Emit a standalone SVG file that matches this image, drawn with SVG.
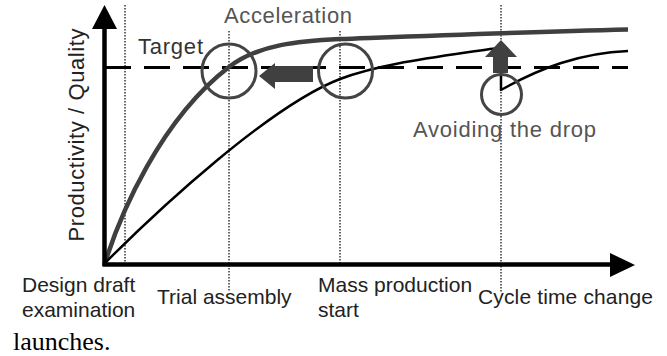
<svg xmlns="http://www.w3.org/2000/svg" width="667" height="356" viewBox="0 0 667 356">
  <style>
    .lbl { font-family: "Liberation Sans", Arial, sans-serif; font-size: 21px; fill: #222; }
    .big { font-family: "Liberation Sans", Arial, sans-serif; font-size: 22px; }
    .gray { fill: #555; }
    .dot { stroke: #333; stroke-width: 1.5; stroke-dasharray: 1.5 1.5; fill: none; }
    .ring { fill: none; stroke: #444; stroke-width: 3; }
    .blk { fill: #404040; }
  </style>
  <rect width="667" height="356" fill="#fff"/>

  <g id="guides">
    <line class="dot" x1="125" y1="5" x2="125" y2="264"/>
    <line class="dot" x1="229" y1="31" x2="229" y2="292"/>
    <line class="dot" x1="340" y1="31" x2="340" y2="264"/>
    <line class="dot" x1="501" y1="5" x2="501" y2="293"/>
  </g>

  <g id="connectors" fill="none" stroke-linecap="butt" stroke-linejoin="round">
    <line id="target-line" x1="105" y1="67.5" x2="628" y2="67.5" stroke="#000" stroke-width="3" stroke-dasharray="26 13"/>
    <path id="accelerated-curve" d="M105,263 C120,215 160,120 229,67 C259,44 300,41 340,39 C420,36 520,32 628,29.5" stroke="#3f3f3f" stroke-width="4.5"/>
    <path id="normal-curve" d="M105,263 C160,208 270,106 340,79 C380,64 430,58 490,49 L501,48 L501,90 C540,68 580,53 628,51" stroke="#000" stroke-width="2.5"/>
    <g id="y-axis">
      <line x1="104.5" y1="266" x2="104.5" y2="26" stroke="#000" stroke-width="4.5"/>
      <polygon points="104.5,5 92,29 117,29" fill="#000"/>
    </g>
    <g id="x-axis">
      <line x1="102.5" y1="264.5" x2="612" y2="264.5" stroke="#000" stroke-width="4.5"/>
      <polygon points="635,265 610,253 610,277" fill="#000"/>
    </g>
  </g>

  <g id="circle-trial">
    <circle class="ring" cx="229" cy="71" r="27"/>
  </g>
  <g id="circle-mass">
    <circle class="ring" cx="345.5" cy="71" r="27"/>
  </g>
  <g id="circle-drop">
    <circle class="ring" cx="501.5" cy="94.5" r="20"/>
  </g>
  <g id="arrow-acceleration">
    <polygon class="blk" points="259,76 275,63 275,66 313,66 313,82 275,82 275,89"/>
  </g>
  <g id="arrow-avoid">
    <polygon class="blk" points="501,40 517,57 508,57 508,73 493,73 493,57 485,57"/>
  </g>

  <g id="label-acceleration"><text class="big gray" x="224" y="23" textLength="128" lengthAdjust="spacing">Acceleration</text></g>
  <g id="label-target"><text class="big" fill="#333" x="138" y="54" textLength="65" lengthAdjust="spacing">Target</text></g>
  <g id="label-avoid"><text class="big gray" x="413" y="137" textLength="183" lengthAdjust="spacing">Avoiding the drop</text></g>
  <g id="label-yaxis"><text class="big" fill="#222" transform="translate(84,135) rotate(-90)" text-anchor="middle" textLength="213" lengthAdjust="spacing">Productivity / Quality</text></g>
  <g id="label-design"><text class="lbl" x="22" y="292">Design draft</text><text class="lbl" x="22" y="317">examination</text></g>
  <g id="label-trial"><text class="lbl" x="157" y="304">Trial assembly</text></g>
  <g id="label-mass"><text class="lbl" x="318" y="292">Mass production</text><text class="lbl" x="318" y="317">start</text></g>
  <g id="label-cycle"><text class="lbl" x="478" y="304" textLength="175" lengthAdjust="spacing">Cycle time change</text></g>
  <g id="caption"><text x="13" y="350" font-family="'Liberation Serif', 'Times New Roman', serif" font-size="26" fill="#000">launches.</text></g>
</svg>
